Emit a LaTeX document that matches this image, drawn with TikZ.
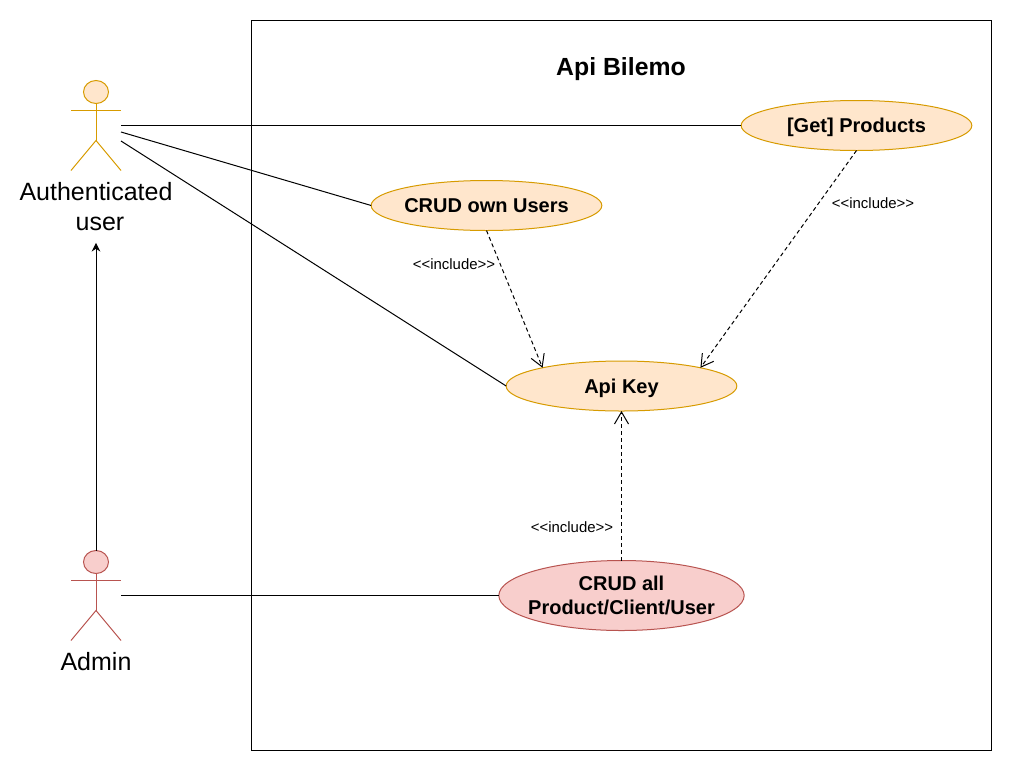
\documentclass[tikz,border=0pt]{standalone}
\usepackage{fontspec}
\setmainfont{Liberation Sans}
\definecolor{userfill}{HTML}{FFE6CC}
\definecolor{userdraw}{HTML}{D79B00}
\definecolor{adminfill}{HTML}{F8CECC}
\definecolor{admindraw}{HTML}{B85450}
\usetikzlibrary{arrows.meta,positioning,calc,shapes.geometric}

\begin{document}
\begin{tikzpicture}[x=0.75pt, y=-0.75pt, line width=0.75pt,
    usecase/.style={ellipse, draw=userdraw, fill=userfill, inner ysep=0pt, inner xsep=-6pt, outer sep=0pt,
                 minimum width=173pt, minimum height=37.5pt, align=center,
                 font=\fontsize{15}{18}\selectfont\bfseries},
    oneline/.style={text height=13.5pt, text depth=3pt},
    admincase/.style={usecase, draw=admindraw, fill=adminfill, text depth=0pt,
                 minimum width=184pt, minimum height=52.5pt},
    actorbox/.style={inner sep=0pt, outer sep=0pt, minimum width=37.5pt, minimum height=67.5pt},
    actorlabel/.style={align=center, inner xsep=0pt, inner ysep=9pt, outer sep=0pt,
                 font=\fontsize{18.75}{22.5}\selectfont},
    incl/.style={dashed, dash pattern=on 3pt off 2.25pt, -{Straight Barb[length=9pt,width=10.5pt,line width=0.75pt]}},
    incltext/.style={inner sep=0pt, font=\fontsize{11.2}{13}\selectfont}]

  \useasboundingbox (0,0) rectangle (1012,771);

  % System boundary
  \node[draw, fill=white, minimum width=555pt, minimum height=547.5pt, inner sep=0pt] (apibox) at (621.5,385.5) {};
  \node[font=\fontsize{18.6}{22}\selectfont\bfseries] (apititle) at (621,69) {Api Bilemo};

  % Actors
  \node[actorbox] (authuser) at (96,125.5) {};
  \node[actorbox] (admin) at (96,595.5) {};
  \foreach \who/\col/\fil in {authuser/userdraw/userfill, admin/admindraw/adminfill} {
    \draw[\col, fill=\fil] ($(\who.north)+(0,11.5)$) ellipse (12.5 and 11.5);
    \draw[\col] ($(\who.north)+(0,23)$) -- ($(\who.north)+(0,60)$);
    \draw[\col] ($(\who.north west)+(0,30)$) -- ($(\who.north east)+(0,30)$);
    \draw[\col] (\who.south west) -- ($(\who.north)+(0,60)$) -- (\who.south east);
  }
  \node[actorlabel, below=0pt of authuser] (authlabel) {Authenticated\\\hspace*{6pt}user};
  \node[actorlabel, below=0pt of admin] (adminlabel) {Admin};

  % Use cases
  \node[usecase, oneline] (products) at (856.5,125.5) {[Get] Products};
  \node[usecase, oneline] (ownusers) at (486.5,205.5) {CRUD own Users};
  \node[usecase, oneline] (apikey) at (621.5,386) {Api Key};
  \node[admincase] (crudall) at (621.5,595.5) {CRUD all\\Product/Client/User};

  % Associations
  \coordinate (authmid) at (121,132);
  \coordinate (authlow) at (121,141);
  \draw (authuser.east) -- (products.west);
  \draw (authmid) -- (ownusers.west);
  \draw (authlow) -- (apikey.west);
  \draw (admin.east) -- (crudall.west);
  \draw[-{Stealth[length=6.5pt,width=6.5pt]}] (admin.north) -- (authlabel.south);

  % Includes
  \draw[incl] (ownusers.south) -- (apikey.167);
  \draw[incl] (products.south) -- (apikey.13);
  \draw[incl] (crudall.north) -- (apikey.south);
  \node[incltext] (incla) at (454,264) {<{}<include>{}>};
  \node[incltext] (inclb) at (873,203) {<{}<include>{}>};
  \node[incltext] (inclc) at (572,527) {<{}<include>{}>};
\end{tikzpicture}
\end{document}
